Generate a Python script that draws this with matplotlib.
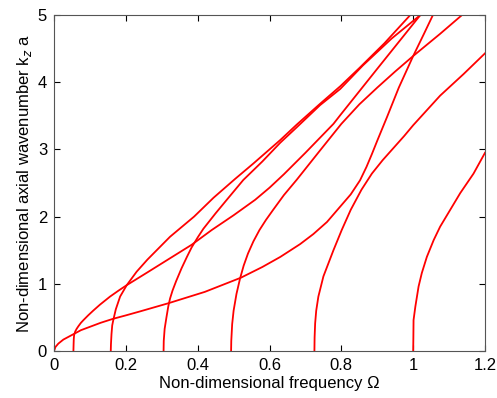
import matplotlib.pyplot as plt

# dispersion branches: (frequency, wavenumber)
branch_origin_w = [0.000, 0.004, 0.012, 0.026, 0.054, 0.075, 0.100, 0.130, 0.165, 0.200, 0.240,
                   0.318, 0.420, 0.520, 0.580, 0.630, 0.685, 0.722, 0.760, 0.797, 0.826, 0.852,
                   0.870, 0.885, 0.900, 0.927, 0.960, 1.000, 1.030, 1.055]
branch_origin_k = [0.00, 0.06, 0.11, 0.17, 0.25, 0.31, 0.36, 0.42, 0.48, 0.53, 0.59,
                   0.71, 0.88, 1.09, 1.25, 1.40, 1.59, 1.74, 1.92, 2.15, 2.33, 2.54,
                   2.74, 2.93, 3.13, 3.48, 3.92, 4.39, 4.72, 5.00]

branch_1_w = [0.054, 0.0545, 0.055, 0.056, 0.059, 0.063, 0.068, 0.075, 0.082, 0.095, 0.109,
              0.128, 0.156, 0.180, 0.2025, 0.260, 0.323, 0.383, 0.439, 0.500, 0.560, 0.600,
              0.640, 0.700, 0.778, 0.797, 0.900, 1.020]
branch_1_k = [0.00, 0.10, 0.18, 0.24, 0.29, 0.33, 0.37, 0.42, 0.46, 0.53, 0.60,
              0.69, 0.81, 0.90, 0.98, 1.17, 1.38, 1.58, 1.80, 2.02, 2.25, 2.43,
              2.63, 2.95, 3.38, 3.51, 4.20, 5.00]

branch_2_w = [0.158, 0.1585, 0.160, 0.162, 0.165, 0.172, 0.184, 0.2025, 0.230, 0.260, 0.323,
              0.390, 0.444, 0.504, 0.555, 0.630, 0.676, 0.741, 0.797, 0.850, 0.920, 0.992]
branch_2_k = [0.00, 0.10, 0.25, 0.38, 0.46, 0.62, 0.81, 0.98, 1.18, 1.36, 1.70,
              2.00, 2.28, 2.56, 2.79, 3.14, 3.37, 3.68, 3.94, 4.21, 4.58, 5.00]

branch_3_w = [0.305, 0.3055, 0.308, 0.313, 0.318, 0.323, 0.330, 0.340, 0.355, 0.370, 0.383,
              0.400, 0.416, 0.450, 0.481, 0.527, 0.580, 0.630, 0.676, 0.741, 0.797, 0.860,
              0.940, 1.020]
branch_3_k = [0.00, 0.15, 0.33, 0.50, 0.66, 0.78, 0.90, 1.04, 1.23, 1.40, 1.54,
              1.69, 1.82, 2.05, 2.25, 2.545, 2.82, 3.10, 3.33, 3.66, 3.90, 4.25,
              4.65, 5.00]

branch_4_w = [0.493, 0.4935, 0.496, 0.500, 0.508, 0.518, 0.528, 0.540, 0.555, 0.572, 0.590,
              0.610, 0.640, 0.676, 0.740, 0.800, 0.850, 0.900, 0.950, 1.000, 1.075, 1.136]
branch_4_k = [0.00, 0.15, 0.40, 0.60, 0.85, 1.08, 1.27, 1.45, 1.63, 1.80, 1.95,
              2.10, 2.32, 2.55, 2.98, 3.38, 3.67, 3.92, 4.16, 4.39, 4.72, 5.00]

branch_5_w = [0.725, 0.7255, 0.727, 0.730, 0.736, 0.750, 0.778, 0.801, 0.826, 0.856, 0.885,
              0.915, 0.945, 0.975, 1.000, 1.075, 1.140, 1.200]
branch_5_k = [0.00, 0.20, 0.41, 0.60, 0.81, 1.11, 1.50, 1.80, 2.10, 2.40, 2.64,
              2.84, 3.02, 3.20, 3.36, 3.80, 4.12, 4.43]

branch_6_w = [1.000, 1.0005, 1.001, 1.006, 1.015, 1.024, 1.038, 1.057, 1.075, 1.103, 1.131,
              1.168, 1.200]
branch_6_k = [0.00, 0.20, 0.46, 0.66, 0.96, 1.16, 1.40, 1.65, 1.85, 2.10, 2.35,
              2.64, 2.95]

branches = [(branch_origin_w, branch_origin_k), (branch_1_w, branch_1_k),
            (branch_2_w, branch_2_k), (branch_3_w, branch_3_k),
            (branch_4_w, branch_4_k), (branch_5_w, branch_5_k),
            (branch_6_w, branch_6_k)]

x_ticks = [0, 0.2, 0.4, 0.6, 0.8, 1, 1.2]
x_tick_labels = ['0', '0.2', '0.4', '0.6', '0.8', '1', '1.2']
y_ticks = [0, 1, 2, 3, 4, 5]

plt.rcParams['font.family'] = ['Liberation Sans', 'DejaVu Sans']

fig = plt.figure(figsize=(4.97, 3.98), dpi=100)
ax = fig.add_axes([0.1087, 0.1181, 0.8672, 0.8442])

for w, k in branches:
    ax.plot(w, k, color='red', linewidth=1.3)

ax.set_xlim(0, 1.2)
ax.set_ylim(0, 5)
ax.set_xticks(x_ticks)
ax.set_xticklabels(x_tick_labels)
ax.set_yticks(y_ticks)
ax.tick_params(direction='in', top=True, right=True, labelsize=12, length=4, pad=5)
for s in ax.spines.values():
    s.set_color('#555555')

ax.set_xlabel('Non-dimensional frequency \u03a9', fontsize=12, labelpad=2)
ax.set_ylabel('Non-dimensional axial wavenumber k$_z$ a', fontsize=12, labelpad=3)

fig.savefig('out.png', dpi=100)
